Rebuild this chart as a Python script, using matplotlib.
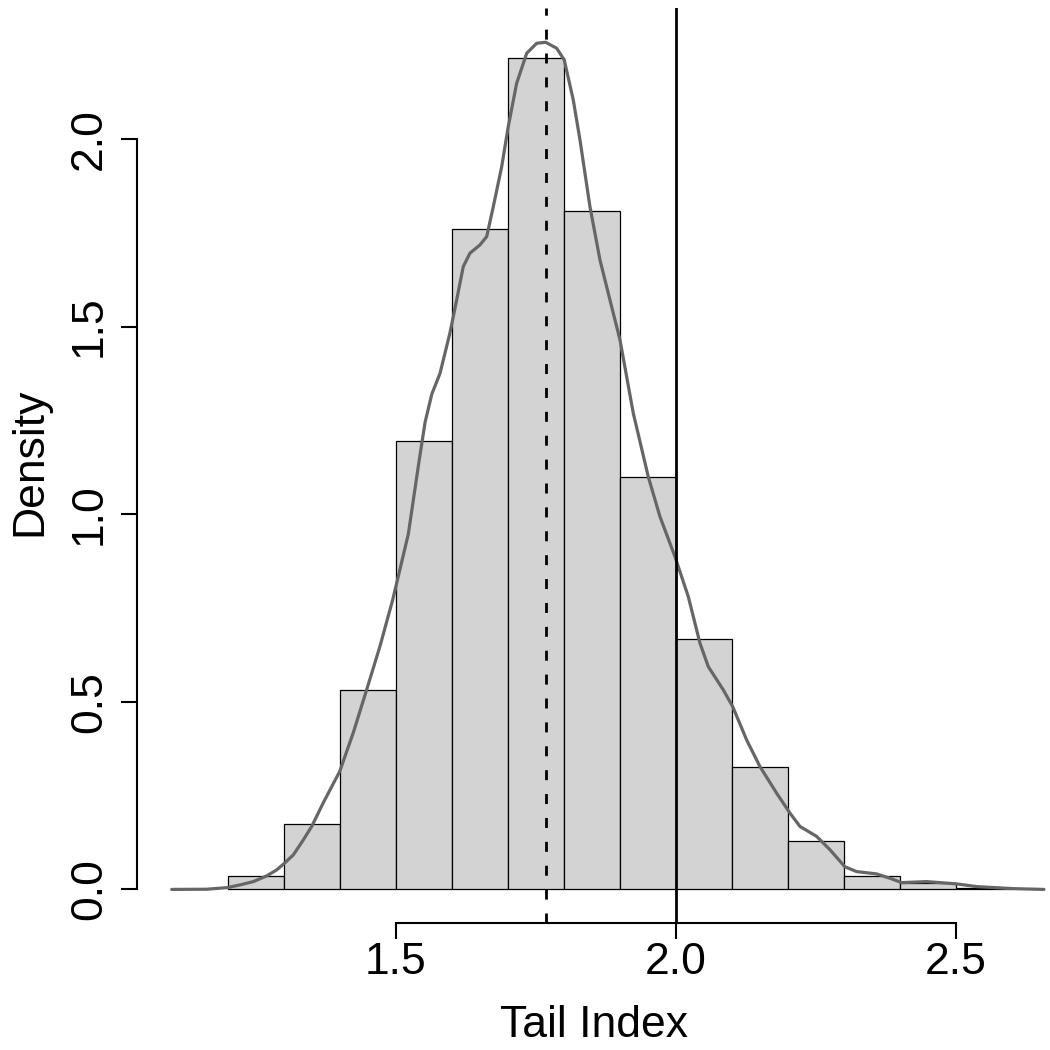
import matplotlib
matplotlib.use("Agg")
import matplotlib.pyplot as plt

# Histogram (density scale), bin width 0.1
bin_left = [1.2, 1.3, 1.4, 1.5, 1.6, 1.7, 1.8, 1.9, 2.0, 2.1, 2.2, 2.3, 2.4, 2.5]
bin_density = [0.036, 0.174, 0.532, 1.196, 1.760, 2.215, 1.807, 1.100,
               0.666, 0.325, 0.129, 0.036, 0.018, 0.005]
bin_width = 0.1

# Kernel density curve
kde_x = [1.0995, 1.162, 1.1988, 1.2214, 1.2452, 1.2691, 1.2870, 1.2995, 1.3166,
         1.3345, 1.3495, 1.3702, 1.3995, 1.4238, 1.4477, 1.4714, 1.4941, 1.5220,
         1.5416, 1.5520, 1.5640, 1.5786, 1.5964, 1.6084, 1.6202, 1.6321, 1.6500, 1.6620,
         1.6738, 1.6888, 1.7005, 1.7155, 1.7334, 1.7513, 1.7673, 1.7870, 1.8005,
         1.8166, 1.8286, 1.8464, 1.8643, 1.8821, 1.9000, 1.9238, 1.9505, 1.9714,
         1.9982, 2.0220, 2.0429, 2.0577, 2.0845, 2.1013, 2.1262, 2.1500, 2.1798,
         2.2036, 2.2214, 2.2513, 2.2750, 2.3018, 2.3227, 2.3584, 2.3821, 2.4030,
         2.4477, 2.5013, 2.5370, 2.6018, 2.6571]
kde_y = [0.0, 0.0005, 0.0048, 0.0120, 0.0208, 0.0360, 0.0520, 0.0680, 0.0919,
         0.1319, 0.1679, 0.2310, 0.3144, 0.4178, 0.5324, 0.6479, 0.7715, 0.9466,
         1.1449, 1.2450, 1.3200, 1.3750, 1.4830, 1.5710, 1.6599, 1.6954, 1.7175, 1.7396,
         1.8195, 1.9261, 2.0327, 2.1482, 2.2281, 2.2548, 2.2575, 2.2415, 2.2103,
         2.1039, 1.9973, 1.8195, 1.6775, 1.5710, 1.4648, 1.2690, 1.1002, 0.9936,
         0.8870, 0.7804, 0.6561, 0.5938, 0.5318, 0.4873, 0.3984, 0.3274, 0.2565,
         0.2034, 0.1679, 0.1412, 0.1058, 0.0602, 0.0475, 0.0413, 0.0298, 0.0181,
         0.0208, 0.0147, 0.0075, 0.0021, 0.0]

mode_value = 1.7673
reference_value = 2.0

x_ticks = [1.5, 2.0, 2.5]
x_tick_labels = ["1.5", "2.0", "2.5"]
y_ticks = [0.0, 0.5, 1.0, 1.5, 2.0]
y_tick_labels = ["0.0", "0.5", "1.0", "1.5", "2.0"]

plt.rcParams['font.family'] = ['Liberation Sans', 'DejaVu Sans']

W = 1050
fig = plt.figure(figsize=(10.5, 10.5), dpi=100)
ax = fig.add_axes([137 / W, 1 - 923.3 / W, (W - 137) / W, (923.3 - 8.3) / W])

ax.bar(bin_left, bin_density, width=bin_width, align='edge',
       color='#D3D3D3', edgecolor='black', linewidth=0.9, zorder=1)
ax.plot(kde_x, kde_y, color='#666666', linewidth=2.3, zorder=3,
        solid_joinstyle='round', solid_capstyle='round')
ax.axvline(mode_value, color='black', linewidth=2.0, linestyle=(0, (3.6, 5.0)), zorder=4)
ax.axvline(reference_value, color='black', linewidth=2.0, zorder=4)

ax.set_xlim(1.0375, 2.668)
ax.set_ylim(-0.0903, 2.348)

for s in ['top', 'right']:
    ax.spines[s].set_visible(False)
ax.spines['left'].set_bounds(0.0, 2.0)
ax.spines['bottom'].set_bounds(1.5, 2.5)
ax.spines['left'].set_linewidth(1.5)
ax.spines['bottom'].set_linewidth(1.5)

ax.set_xticks(x_ticks)
ax.set_xticklabels(x_tick_labels)
ax.set_yticks(y_ticks)
ax.set_yticklabels(y_tick_labels, rotation=90, va='center')
ax.tick_params(axis='both', length=11.5, width=1.5, labelsize=32, color='black')
ax.tick_params(axis='x', pad=2)
ax.tick_params(axis='y', pad=8)

fig.text(593.5 / W, 1 - 1036.7 / W, "Tail Index", fontsize=32,
         ha='center', va='baseline')
fig.text(41.7 / W, 1 - 461.5 / W, "Density", fontsize=32, rotation=90,
         rotation_mode='anchor', ha='center', va='baseline')

fig.savefig("out.png", dpi=100, facecolor='white')
